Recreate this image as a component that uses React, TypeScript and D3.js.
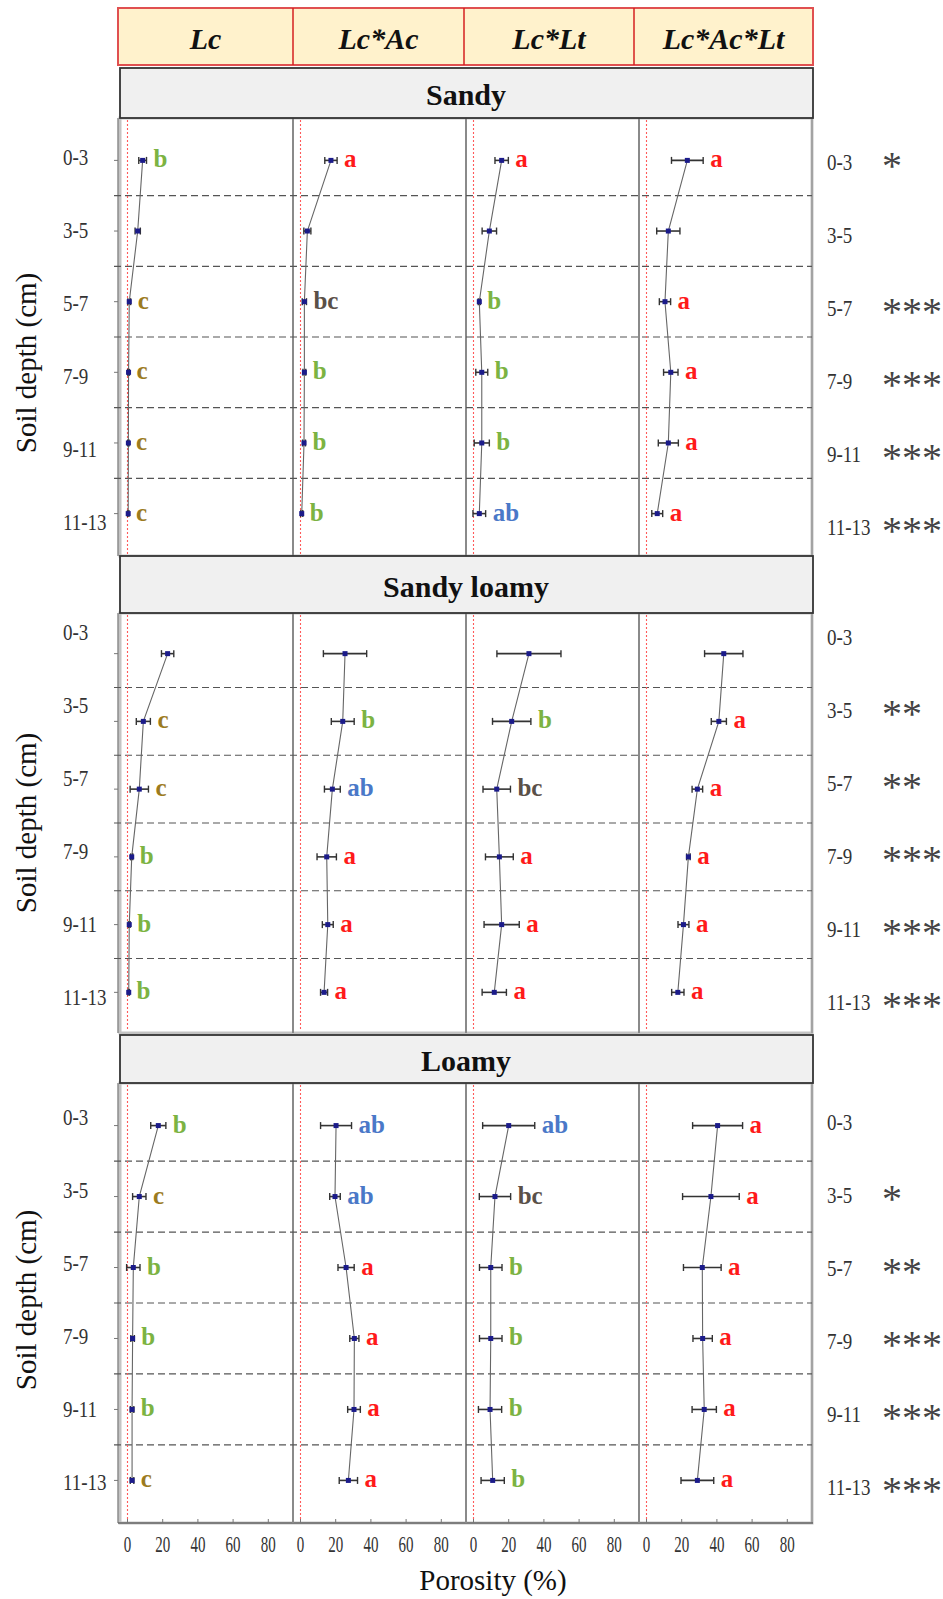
import React from "react";
import * as d3 from "d3";

// ---------------- DATA ----------------
const depths = ["0-3", "3-5", "5-7", "7-9", "9-11", "11-13"];
const treatments = ["Lc", "Lc*Ac", "Lc*Lt", "Lc*Ac*Lt"];
const soils = ["Sandy", "Sandy loamy", "Loamy"];
const xTicks = [0, 20, 40, 60, 80];

// rows = treatments (Lc, Lc*Ac, Lc*Lt, Lc*Ac*Lt), columns = depths
const sandyMeans = [
  [8.6, 5.8, 1.0, 0.6, 0.5, 0.4],
  [17.3, 3.9, 2.2, 2.2, 2.0, 0.7],
  [16.0, 9.0, 3.3, 4.7, 4.7, 3.3],
  [23.2, 12.4, 10.5, 13.8, 12.4, 6.1],
];
const sandyErrs = [
  [2.2, 1.5, 0.8, 0.5, 0.4, 0.4],
  [3.5, 2.0, 1.2, 0.8, 0.8, 0.6],
  [3.8, 4.1, 0.6, 3.4, 4.3, 3.6],
  [9.0, 6.6, 3.2, 4.1, 5.7, 3.1],
];
const sandyLetters = [
  ["b", "", "c", "c", "c", "c"],
  ["a", "", "bc", "b", "b", "b"],
  ["a", "", "b", "b", "b", "ab"],
  ["a", "", "a", "a", "a", "a"],
];
const sandyStars = ["*", "", "***", "***", "***", "***"];

const sandyLoamyMeans = [
  [22.8, 9.0, 6.7, 2.4, 1.0, 0.7],
  [25.3, 24.0, 18.1, 14.9, 15.5, 13.4],
  [31.5, 21.7, 13.2, 14.7, 16.0, 11.8],
  [43.9, 41.1, 28.9, 23.8, 21.0, 17.8],
];
const sandyLoamyErrs = [
  [3.5, 4.0, 5.2, 0.6, 0.5, 0.4],
  [12.3, 6.5, 4.5, 5.5, 3.1, 2.0],
  [18.2, 10.9, 7.8, 7.9, 10.0, 6.9],
  [10.9, 4.3, 3.0, 1.0, 3.1, 3.5],
];
const sandyLoamyLetters = [
  ["", "c", "c", "b", "b", "b"],
  ["", "b", "ab", "a", "a", "a"],
  ["", "b", "bc", "a", "a", "a"],
  ["", "a", "a", "a", "a", "a"],
];
const sandyLoamyStars = ["", "**", "**", "***", "***", "***"];

const loamyMeans = [
  [17.5, 6.7, 3.3, 2.9, 2.6, 2.6],
  [20.2, 19.6, 25.9, 30.6, 30.4, 27.2],
  [20.0, 12.2, 9.8, 9.8, 9.4, 10.9],
  [40.4, 36.6, 31.7, 31.9, 32.8, 28.9],
];
const loamyErrs = [
  [4.3, 3.8, 3.8, 1.0, 1.0, 1.0],
  [8.8, 3.0, 4.6, 2.6, 3.6, 5.2],
  [14.8, 8.9, 6.4, 6.4, 6.6, 6.6],
  [14.2, 16.1, 10.7, 5.5, 6.9, 9.3],
];
const loamyLetters = [
  ["b", "c", "b", "b", "b", "c"],
  ["ab", "ab", "a", "a", "a", "a"],
  ["ab", "bc", "b", "b", "b", "b"],
  ["a", "a", "a", "a", "a", "a"],
];
const loamyStars = ["", "*", "**", "***", "***", "***"];

// ---------------- STYLE / LAYOUT ----------------
const letterColors: Record<string, string> = {
  a: "#ff1a1a",
  b: "#7cb342",
  c: "#9c7b1e",
  ab: "#4a78c8",
  bc: "#5a5048",
};
const SERIF = '"Liberation Serif","Times New Roman",serif';

export default function App() {
  const W = 943;
  const H = 1599;

  const colEdges = [120, 293, 466, 639, 812];
  const headerEdges = [118, 293, 464, 634, 813];
  const headerTop = 8;
  const headerBottom = 65;
  const titleBoxes = [
    [68, 118],
    [556, 613],
    [1035, 1083],
  ];
  const panels = [
    [118, 556],
    [613, 1033],
    [1083, 1523],
  ];
  const labelOffsets = [39, 19, 34];
  const labelStep = 73;
  const yTitleShift = [26, 0, -3];

  const soilSets = [
    { means: sandyMeans, errs: sandyErrs, letters: sandyLetters, stars: sandyStars },
    { means: sandyLoamyMeans, errs: sandyLoamyErrs, letters: sandyLoamyLetters, stars: sandyLoamyStars },
    { means: loamyMeans, errs: loamyErrs, letters: loamyLetters, stars: loamyStars },
  ];

  const xScales = treatments.map((_, t) =>
    d3
      .scaleLinear()
      .domain([-7.5 / 1.76, (colEdges[t + 1] - colEdges[t] - 7.5) / 1.76])
      .range([colEdges[t], colEdges[t + 1]])
  );

  const left = colEdges[0];
  const right = colEdges[4];

  return (
    <svg
      width={W}
      height={H}
      style={{ position: "absolute", left: 0, top: 0, display: "block", background: "#fff" }}
      fontFamily={SERIF}
    >
      <rect x={0} y={0} width={W} height={H} fill="#fff" />

      {/* Header */}
      <rect
        x={headerEdges[0]}
        y={headerTop}
        width={headerEdges[4] - headerEdges[0]}
        height={headerBottom - headerTop}
        fill="#fff2cc"
        stroke="#e05050"
        strokeWidth={2}
      />
      {treatments.map((t, i) => (
        <g key={t}>
          {i > 0 && (
            <line
              x1={headerEdges[i]}
              x2={headerEdges[i]}
              y1={headerTop}
              y2={headerBottom}
              stroke="#d42020"
              strokeWidth={1.5}
            />
          )}
          <text
            x={(headerEdges[i] + headerEdges[i + 1]) / 2}
            y={49}
            textAnchor="middle"
            fontSize={30}
            fontWeight="bold"
            fontStyle="italic"
            fill="#111"
          >
            {t}
          </text>
        </g>
      ))}

      {soils.map((soil, s) => {
        const [top, bottom] = panels[s];
        const [bt, bb] = titleBoxes[s];
        const set = soilSets[s];
        const y = d3.scalePoint<string>().domain(depths).range([top, bottom]).padding(0.6);
        const step = y.step();
        const labelY = (i: number) => top + labelOffsets[s] + i * labelStep;
        return (
          <g key={soil}>
            {/* panel frame */}
            <rect x={left} y={top} width={right - left} height={bottom - top} fill="#fff" stroke="#c4c4c4" strokeWidth={3} />
            <line x1={left - 2} x2={left - 2} y1={top} y2={bottom} stroke="#555" strokeWidth={1} />
            <line x1={right} x2={right} y1={top} y2={bottom} stroke="#999" strokeWidth={1.5} />
            {s === 2 && <line x1={left - 2} x2={right + 1} y1={bottom} y2={bottom} stroke="#666" strokeWidth={1.5} />}
            {colEdges.slice(1, 4).map((cx) => (
              <line key={cx} x1={cx} x2={cx} y1={top} y2={bottom} stroke="#8a8a8a" strokeWidth={2} />
            ))}

            {/* separators */}
            {depths.slice(0, 5).map((d) => {
              const yy = (y(d) as number) + step / 2;
              return (
                <line
                  key={d}
                  x1={left - 6}
                  x2={right}
                  y1={yy}
                  y2={yy}
                  stroke="#555"
                  strokeWidth={1.2}
                  strokeDasharray="7,4"
                />
              );
            })}

            {/* y ticks */}
            {depths.map((d) => (
              <line key={d} x1={left - 6} x2={left - 2} y1={y(d)} y2={y(d)} stroke="#777" strokeWidth={1} />
            ))}

            {/* zero reference lines */}
            {treatments.map((t, ti) => (
              <line
                key={t}
                x1={xScales[ti](0)}
                x2={xScales[ti](0)}
                y1={top + 2}
                y2={bottom - 2}
                stroke="#ff5a5a"
                strokeWidth={1.1}
                strokeDasharray="2,2"
              />
            ))}

            {/* series */}
            {treatments.map((t, ti) => {
              const x = xScales[ti];
              const means = set.means[ti];
              const errs = set.errs[ti];
              const letters = set.letters[ti];
              const line = d3
                .line<number>()
                .x((v) => x(v))
                .y((_, i) => y(depths[i]) as number);
              return (
                <g key={t}>
                  <path d={line(means) || ""} fill="none" stroke="#666" strokeWidth={1.1} />
                  {means.map((m, i) => {
                    const yy = y(depths[i]) as number;
                    const e = errs[i];
                    return (
                      <g key={i}>
                        <line x1={x(m - e)} x2={x(m + e)} y1={yy} y2={yy} stroke="#333" strokeWidth={1.6} />
                        <line x1={x(m - e)} x2={x(m - e)} y1={yy - 3.5} y2={yy + 3.5} stroke="#333" strokeWidth={1.4} />
                        <line x1={x(m + e)} x2={x(m + e)} y1={yy - 3.5} y2={yy + 3.5} stroke="#333" strokeWidth={1.4} />
                        <rect x={x(m) - 2.5} y={yy - 2.5} width={5} height={5} fill="#1b1b8a" />
                        {letters[i] && (
                          <text
                            x={x(m + e) + 7}
                            y={yy + 7}
                            fontSize={25}
                            fontWeight="bold"
                            fill={letterColors[letters[i]]}
                          >
                            {letters[i]}
                          </text>
                        )}
                      </g>
                    );
                  })}
                </g>
              );
            })}

            {/* left depth labels */}
            {depths.map((d, i) => (
              <text
                key={d}
                transform={`translate(63,${labelY(i) + 7.8}) scale(1,1.25)`}
                fontSize={19}
                fill="#333"
              >
                {d}
              </text>
            ))}

            {/* right depth labels + stars */}
            {depths.map((d, i) => (
              <g key={d}>
                <text transform={`translate(827,${labelY(i) + 5 + 7.8}) scale(1,1.25)`} fontSize={19} fill="#333">
                  {d}
                </text>
                {set.stars[i] && (
                  <text x={882} y={labelY(i) + 3 + 19} fontSize={40} fill="#444">
                    {set.stars[i]}
                  </text>
                )}
              </g>
            ))}

            {/* y title */}
            <text
              transform={`translate(36,${(top + bottom) / 2 + yTitleShift[s]}) rotate(-90)`}
              textAnchor="middle"
              fontSize={29}
              fill="#111"
            >
              Soil depth (cm)
            </text>

            {/* soil title box */}
            <rect x={left} y={bt} width={right - left + 1} height={bb - bt} fill="#f0f0f0" stroke="#333" strokeWidth={1.8} />
            <text x={(left + right) / 2} y={(bt + bb) / 2 + 12} textAnchor="middle" fontSize={30} fontWeight="bold" fill="#111">
              {soil}
            </text>
          </g>
        );
      })}

      {/* bottom x ticks */}
      {treatments.map((t, ti) => (
        <g key={t}>
          {xTicks.map((v) => (
            <g key={v}>
              <line x1={xScales[ti](v)} x2={xScales[ti](v)} y1={1519} y2={1523} stroke="#777" strokeWidth={1} />
              <text
                transform={`translate(${xScales[ti](v)},1552) scale(1,1.5)`}
                textAnchor="middle"
                fontSize={15}
                fill="#333"
              >
                {v}
              </text>
            </g>
          ))}
        </g>
      ))}

      <text x={493} y={1590} textAnchor="middle" fontSize={29} fill="#111">
        Porosity (%)
      </text>
    </svg>
  );
}
